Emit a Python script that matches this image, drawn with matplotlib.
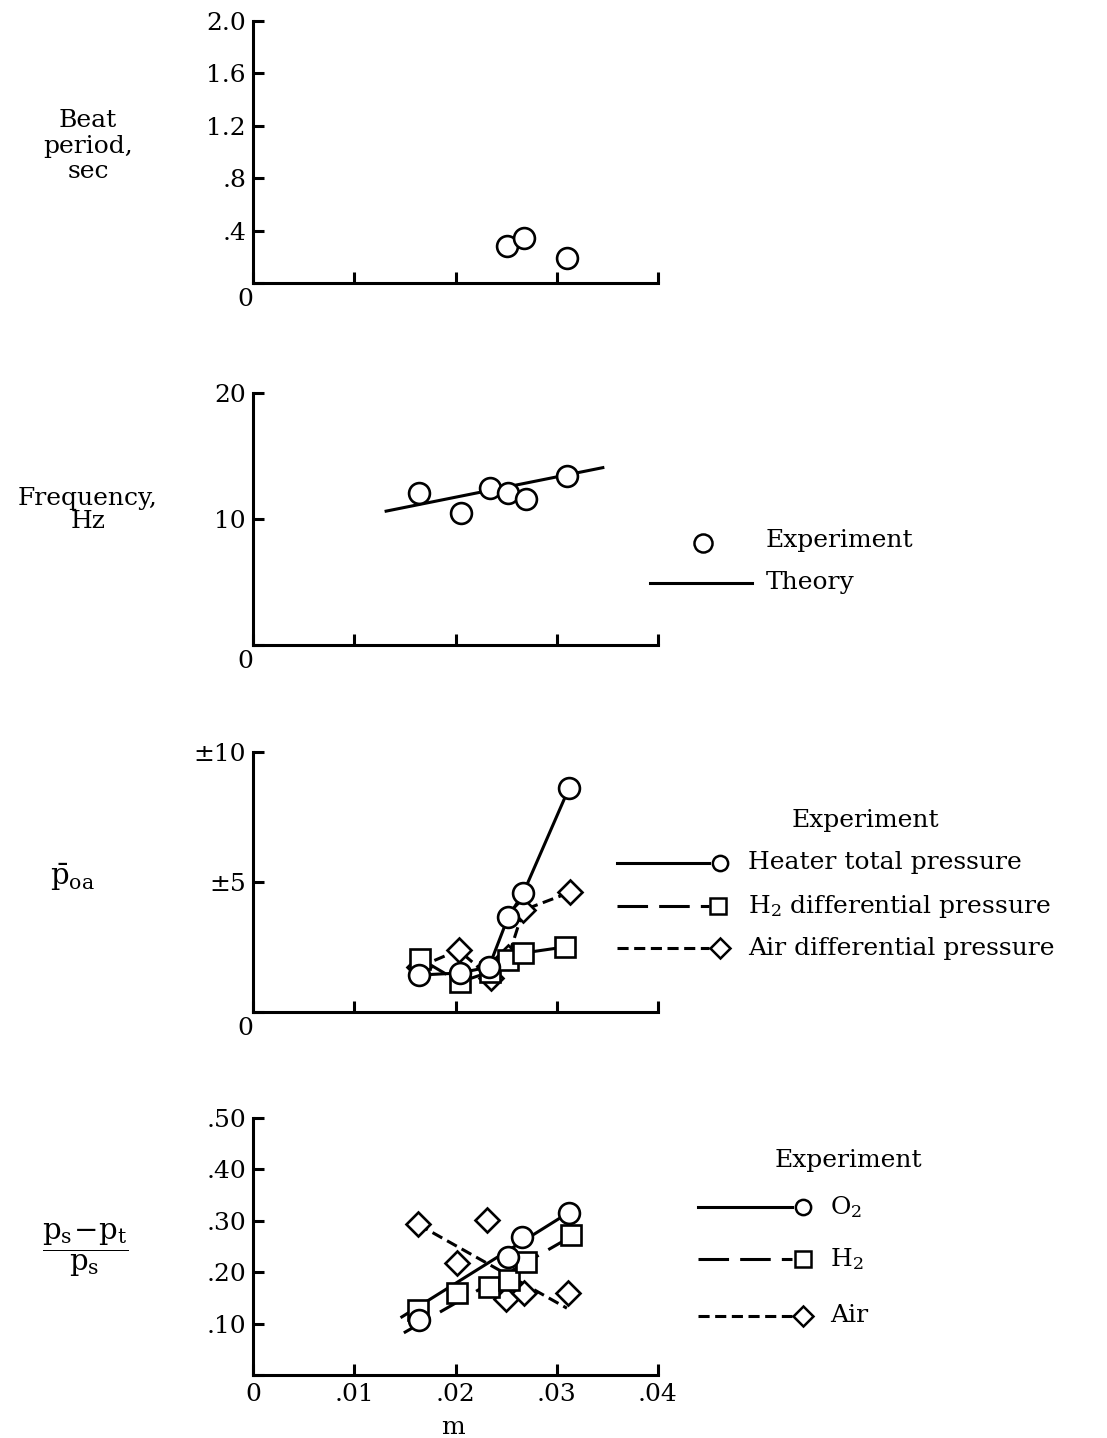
import matplotlib
matplotlib.use("Agg")
import matplotlib.pyplot as plt
from matplotlib.lines import Line2D

plt.rcParams['font.family'] = ['DejaVu Serif']
plt.rcParams['mathtext.fontset'] = 'dejavuserif'
plt.rcParams['font.size'] = 18
plt.rcParams['lines.scale_dashes'] = False

# beat period panel
beat_m = [0.0251, 0.0268, 0.0310]
beat_sec = [0.285, 0.34, 0.19]

# frequency panel
freq_m = [0.0164, 0.0205, 0.0234, 0.0252, 0.0270, 0.0310]
freq_hz = [12.1, 10.5, 12.5, 12.1, 11.6, 13.4]
theory_m = [0.0130, 0.0347]
theory_hz = [10.6, 14.1]

# p_oa panel
heater_m = [0.0164, 0.0204, 0.0233, 0.0252, 0.0267, 0.0312]
heater_p = [1.42, 1.5, 1.73, 3.65, 4.58, 8.6]
h2dp_m = [0.0165, 0.0204, 0.0234, 0.0252, 0.0267, 0.0308]
h2dp_p = [2.05, 1.15, 1.54, 2.0, 2.27, 2.5]
airdp_m = [0.0164, 0.0203, 0.0235, 0.0252, 0.0267, 0.0313]
airdp_p = [1.73, 2.38, 1.3, 2.1, 3.92, 4.6]

# (ps-pt)/ps panel
o2_m = [0.0164, 0.0252, 0.0266, 0.0312]
o2_r = [0.107, 0.229, 0.268, 0.316]
o2_fit_m = [0.0147, 0.0311]
o2_fit_r = [0.113, 0.315]
h2_m = [0.0163, 0.0201, 0.0233, 0.0253, 0.0270, 0.0314]
h2_r = [0.126, 0.159, 0.171, 0.184, 0.219, 0.272]
h2_fit_m = [0.0149, 0.0313]
h2_fit_r = [0.082, 0.268]
air_m = [0.0163, 0.0201, 0.0231, 0.0250, 0.0268, 0.0311]
air_r = [0.293, 0.217, 0.301, 0.148, 0.159, 0.159]
air_fit_m = [0.0163, 0.0310]
air_fit_r = [0.293, 0.130]

x_ticks = [0, 0.01, 0.02, 0.03, 0.04]
x_labels = ['0', '.01', '.02', '.03', '.04']

W, H = 1107, 1438
LW = 2.2
LONG = (22, 8)
SHORT = (8, 4)

fig = plt.figure(figsize=(W / 100, H / 100), dpi=100)


def px_ax(top, bottom):
    left, right = 253, 658
    return fig.add_axes([left / W, 1 - bottom / H, (right - left) / W, (bottom - top) / H])


def style(ax, yticks, ylabels, ylim, xlabels=True):
    for s in ['top', 'right']:
        ax.spines[s].set_visible(False)
    for s in ['left', 'bottom']:
        ax.spines[s].set_linewidth(LW)
    ax.set_xlim(0, 0.04)
    ax.set_ylim(*ylim)
    ax.set_xticks(x_ticks)
    if xlabels:
        ax.set_xticklabels(x_labels)
    else:
        ax.set_xticklabels(['', '', '', '', ''])
        # origin label sits a little left of the axis
        ax.text(-0.0008, -0.02, '0', transform=ax.get_xaxis_transform(), ha='center', va='top')
    ax.set_yticks(yticks)
    ax.set_yticklabels(ylabels)
    ax.tick_params(direction='in', length=8, width=LW)
    ax.tick_params(axis='x', pad=6)
    ax.tick_params(axis='y', pad=5)
    ax.patch.set_alpha(0)


def pts(ax, x, y, marker, ms):
    ax.plot(x, y, color='black', marker=marker, ms=ms, mfc='white', mec='black', mew=1.9, ls='none')


# panel 1
ax1 = px_ax(21, 283)
style(ax1, [0, 0.4, 0.8, 1.2, 1.6, 2.0], ['', '.4', '.8', '1.2', '1.6', '2.0'], (0, 2.0), False)
pts(ax1, beat_m, beat_sec, 'o', 15)

# panel 2
ax2 = px_ax(393, 645)
style(ax2, [0, 10, 20], ['', '10', '20'], (0, 20), False)
ax2.plot(theory_m, theory_hz, color='black', lw=LW, solid_capstyle='butt')
pts(ax2, freq_m, freq_hz, 'o', 15)

# panel 3
ax3 = px_ax(752, 1012)
style(ax3, [0, 5, 10], ['', '±5', '±10'], (0, 10), False)
ax3.plot(airdp_m, airdp_p, color='black', lw=LW, ls='--', dashes=SHORT)
ax3.plot(h2dp_m, h2dp_p, color='black', lw=LW, ls='--', dashes=LONG)
ax3.plot(heater_m, heater_p, color='black', lw=LW)
pts(ax3, airdp_m, airdp_p, 'D', 12)
pts(ax3, h2dp_m, h2dp_p, 's', 14)
pts(ax3, heater_m, heater_p, 'o', 15)

# panel 4
ax4 = px_ax(1118, 1375)
style(ax4, [0, 0.1, 0.2, 0.3, 0.4, 0.5], ['', '.10', '.20', '.30', '.40', '.50'], (0, 0.5), True)
ax4.plot(air_fit_m, air_fit_r, color='black', lw=LW, ls='--', dashes=SHORT)
ax4.plot(h2_fit_m, h2_fit_r, color='black', lw=LW, ls='--', dashes=LONG)
ax4.plot(o2_fit_m, o2_fit_r, color='black', lw=LW)
pts(ax4, air_m, air_r, 'D', 12)
pts(ax4, h2_m, h2_r, 's', 14)
pts(ax4, o2_m, o2_r, 'o', 15)


def ftext(x, y, s, **kw):
    fig.text(x / W, 1 - y / H, s, **kw)


# y labels
ftext(88, 146, 'Beat\nperiod,\nsec', ha='center', va='center', linespacing=1.15)
ftext(88, 510, 'Frequency,\nHz', ha='center', va='center', linespacing=1.05)
ftext(72, 877, r'$\bar{\mathrm{p}}_{\mathrm{oa}}$', ha='center', va='center', fontsize=21)
ftext(85, 1250, r'$\dfrac{\mathrm{p_s\!-\!p_t}}{\mathrm{p_s}}$', ha='center', va='center', fontsize=21)
ftext(453, 1427, 'm', ha='center', va='center')


def leg_line(x0, x1, y, dashes=None):
    kw = dict(color='black', lw=LW, transform=fig.transFigure)
    if dashes is not None:
        kw['ls'] = '--'
        kw['dashes'] = dashes
    fig.add_artist(Line2D([x0 / W, x1 / W], [1 - y / H, 1 - y / H], **kw))


def leg_marker(x, y, marker, ms):
    fig.add_artist(Line2D([x / W], [1 - y / H], marker=marker, ms=ms, mfc='white', mec='black',
                          mew=1.8, ls='none', transform=fig.transFigure))


# legend panel 2
leg_marker(703, 543, 'o', 13)
ftext(766, 541, 'Experiment', va='center')
leg_line(650, 752, 583)
ftext(766, 583, 'Theory', va='center')

# legend panel 3
ftext(865, 821, 'Experiment', ha='center', va='center')
leg_line(617, 709, 863)
leg_marker(720, 863, 'o', 11)
ftext(748, 863, 'Heater total pressure', va='center')
leg_line(617, 709, 906, LONG)
leg_marker(718, 906, 's', 11)
ftext(748, 906, r'H$_2$ differential pressure', va='center')
leg_line(617, 709, 948, SHORT)
leg_marker(720, 948, 'D', 10)
ftext(748, 948, 'Air differential pressure', va='center')

# legend panel 4
ftext(848, 1160, 'Experiment', ha='center', va='center')
leg_line(698, 792, 1207)
leg_marker(803, 1207, 'o', 11)
ftext(830, 1207, r'O$_2$', va='center')
leg_line(698, 792, 1259, LONG)
leg_marker(803, 1259, 's', 11)
ftext(830, 1259, r'H$_2$', va='center')
leg_line(698, 792, 1316, SHORT)
leg_marker(803, 1316, 'D', 10)
ftext(830, 1316, 'Air', va='center')

fig.savefig('out.png', dpi=100)
